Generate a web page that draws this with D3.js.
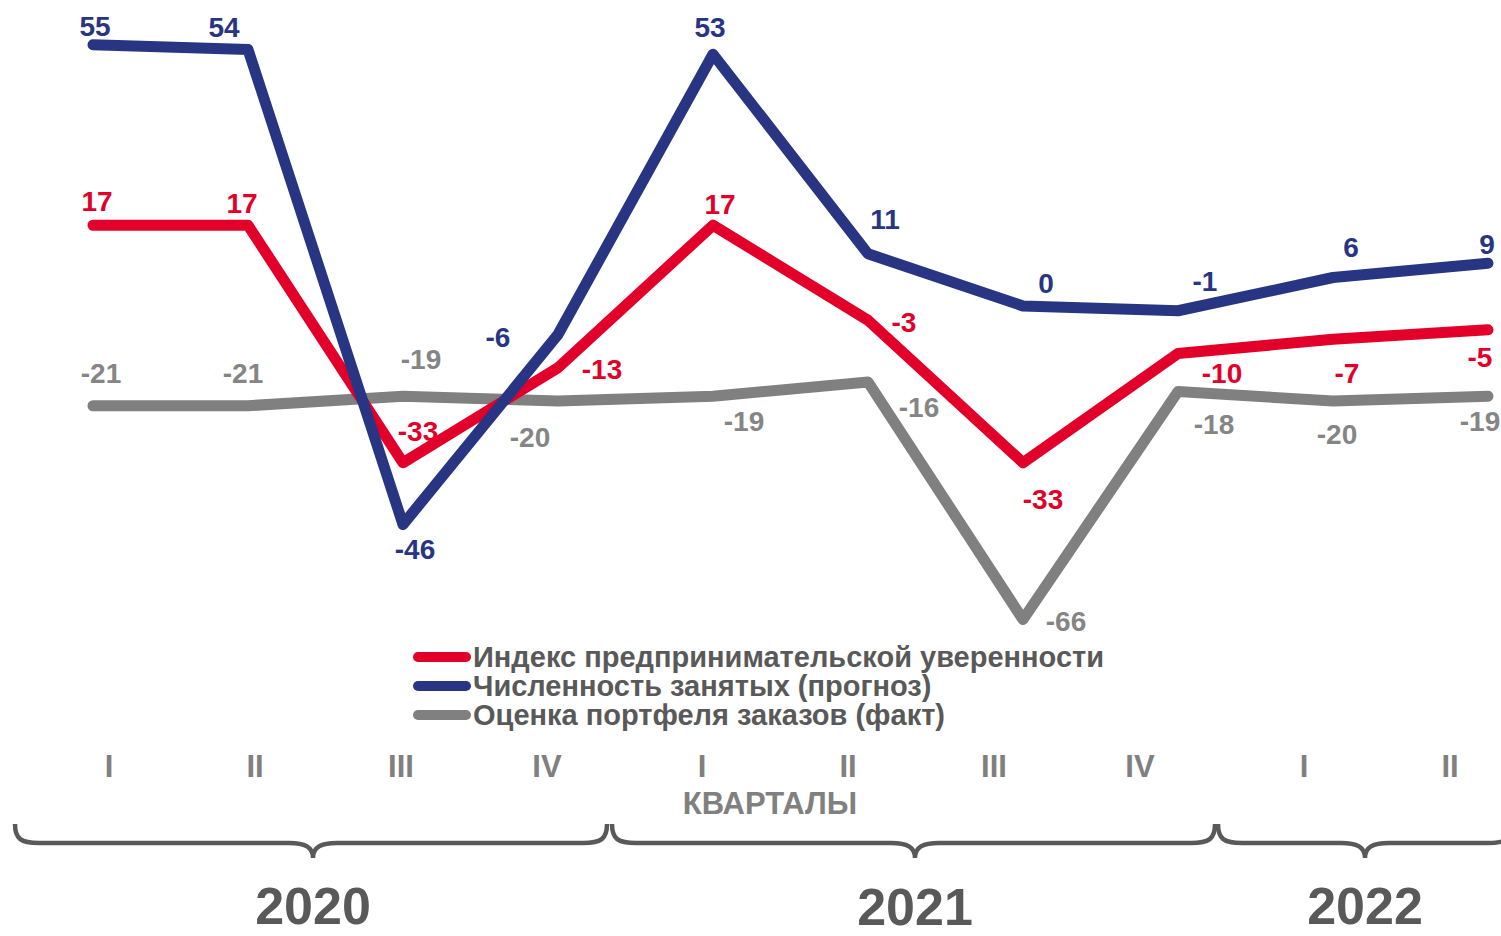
<!DOCTYPE html>
<html>
<head>
<meta charset="utf-8">
<script src="https://cdn.jsdelivr.net/npm/d3@7.9.0/dist/d3.min.js"></script>
<style>
  body { margin: 0; background: #fff; }
  svg { display: block; }
</style>
</head>
<body>
<script>
// ** Data **
const quarters = ["I", "II", "III", "IV", "I", "II", "III", "IV", "I", "II"];
const quarterYear = [0, 0, 0, 0, 1, 1, 1, 1, 2, 2];
const years = ["2020", "2021", "2022"];

const confidence = [17, 17, -33, -13, 17, -3, -33, -10, -7, -5];
const employment = [55, 54, -46, -6, 53, 11, 0, -1, 6, 9];
const orders = [-21, -21, -19, -20, -19, -16, -66, -18, -20, -19];

const seriesNames = [
    "Индекс предпринимательской уверенности",
    "Численность занятых (прогноз)",
    "Оценка портфеля заказов (факт)"
];

// ** Layout / style **
const width = 1501, height = 936;
const colors = ["#e2002b", "#283583", "#808080"];
const labelColors = ["#e2002b", "#283583", "#858585"];
const fontMain = "'Liberation Sans', Arial, sans-serif";
const yearShift = [0, 9, 27]; // extra horizontal shift of quarter labels per year

// label offsets relative to the point [dx, dy]
const labelOffsets = [
    [[4, -24], [-6, -22], [15, -31], [44, 2], [7, -21], [36, 2], [20, 37], [44, 20], [14, 34], [-8, 28]],
    [[2, -18], [-24, -22], [12, 25], [-60, 3], [-3, -27], [17, -34], [23, -23], [27, -29], [18, -30], [-1, -19]],
    [[8, -32], [-5, -32], [18, -37], [-28, 36], [31, 25], [51, 25], [43, 2], [36, 33], [4, 33], [-8, 25]]
];

const svg = d3.select("body").append("svg")
    .attr("width", width)
    .attr("height", height);

const x = d3.scalePoint()
    .domain(d3.range(quarters.length))
    .range([93, 1488]);

const y = d3.scaleLinear()
    .domain([-70, 60])
    .range([638.5, 21]);

const line = d3.line()
    .x((d, i) => x(i))
    .y(d => y(d));

const allSeries = [confidence, employment, orders];
const drawOrder = [2, 0, 1];

// ** Lines **
drawOrder.forEach(s => {
    svg.append("path")
        .datum(allSeries[s])
        .attr("d", line)
        .attr("fill", "none")
        .attr("stroke", colors[s])
        .attr("stroke-width", 11)
        .attr("stroke-linejoin", "round")
        .attr("stroke-linecap", "round");
});

// ** Data labels **
allSeries.forEach((vals, s) => {
    svg.append("g")
        .selectAll("text")
        .data(vals)
        .join("text")
        .attr("x", (d, i) => x(i) + labelOffsets[s][i][0])
        .attr("y", (d, i) => y(d) + labelOffsets[s][i][1])
        .attr("text-anchor", "middle")
        .attr("dominant-baseline", "central")
        .style("font-family", fontMain)
        .style("font-weight", "bold")
        .style("font-size", "28px")
        .style("fill", labelColors[s])
        .text(d => d);
});

// ** Legend **
const legend = svg.append("g").attr("transform", "translate(413, 657)");
seriesNames.forEach((name, i) => {
    const g = legend.append("g").attr("transform", `translate(0, ${i * 29})`);
    g.append("line")
        .attr("x1", 5).attr("x2", 53)
        .attr("y1", 0).attr("y2", 0)
        .attr("stroke", colors[i])
        .attr("stroke-width", 10)
        .attr("stroke-linecap", "round");
    g.append("text")
        .attr("x", 60)
        .attr("y", 10)
        .style("font-family", fontMain)
        .style("font-weight", "bold")
        .style("font-size", "29px")
        .style("fill", "#595959")
        .text(name);
});

// ** Quarter axis **
const qx = d3.scaleLinear()
    .domain([0, quarters.length - 1])
    .range([109, 109 + 146 * (quarters.length - 1)]);

svg.append("g")
    .selectAll("text")
    .data(quarters)
    .join("text")
    .attr("x", (d, i) => qx(i) + yearShift[quarterYear[i]])
    .attr("y", 777)
    .attr("text-anchor", "middle")
    .style("font-family", fontMain)
    .style("font-weight", "bold")
    .style("font-size", "31px")
    .style("fill", "#808080")
    .text(d => d);

svg.append("text")
    .attr("x", 770)
    .attr("y", 814)
    .attr("text-anchor", "middle")
    .style("font-family", fontMain)
    .style("font-weight", "bold")
    .style("font-size", "31px")
    .style("fill", "#808080")
    .text("КВАРТАЛЫ");

// ** Year braces **
const braceBounds = [[15, 607], [612, 1215], [1218, 1512]];
const braceCenters = [313, 915, 1365];
const yearBaselines = [924, 925, 924];

function bracePath(a, b, c) {
    const top = 824, mid = 843, tip = 858, r = 24;
    return `M${a},${top} C${a},${mid - 4} ${a + 6},${mid} ${a + r},${mid} ` +
        `L${c - r},${mid} C${c - 8},${mid} ${c},${mid + 4} ${c},${tip} ` +
        `C${c},${mid + 4} ${c + 8},${mid} ${c + r},${mid} ` +
        `L${b - r},${mid} C${b - 6},${mid} ${b},${mid - 4} ${b},${top}`;
}

years.forEach((yr, i) => {
    svg.append("path")
        .attr("d", bracePath(braceBounds[i][0], braceBounds[i][1], braceCenters[i]))
        .attr("fill", "none")
        .attr("stroke", "#595959")
        .attr("stroke-width", 4.5);
    svg.append("text")
        .attr("x", braceCenters[i])
        .attr("y", yearBaselines[i])
        .attr("text-anchor", "middle")
        .style("font-family", fontMain)
        .style("font-weight", "bold")
        .style("font-size", "52px")
        .style("fill", "#595959")
        .text(yr);
});
</script>
</body>
</html>
